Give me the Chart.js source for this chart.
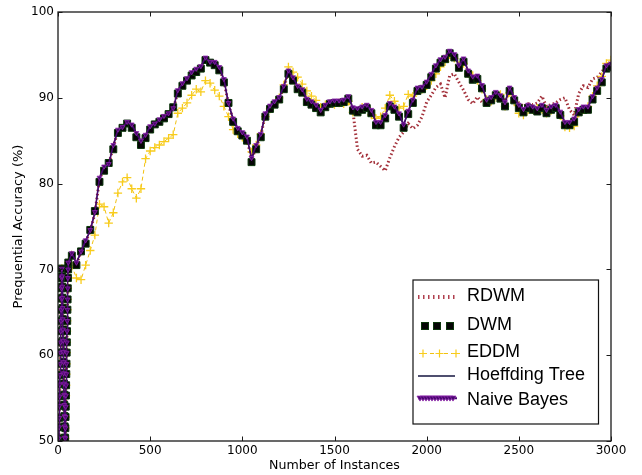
<!DOCTYPE html>
<html>
<head>
<meta charset="utf-8">
<title>Prequential Accuracy</title>
<script src="https://cdn.jsdelivr.net/npm/chart.js@4/dist/chart.umd.min.js"></script>
<style>
  html, body { margin: 0; padding: 0; background: #ffffff; }
  #wrap { width: 642px; height: 475px; }
</style>
</head>
<body>
<div id="wrap"><canvas id="chart" width="642" height="475"></canvas></div>
<script>
// ---- data ---------------------------------------------------------------
// warm-up phase: every learner starts from the same predictions
const warmupInstances = [0,
  4, 5, 6, 7, 8, 9, 10, 11, 12, 13, 14, 15, 16, 17, 18, 19, 20, 21,
  22, 23, 24, 25, 26, 27, 28, 29, 30, 31, 32, 33, 34, 35, 36, 37, 38,
  39, 40, 41, 42, 43, 44, 45, 46, 47, 48, 49, 50, 51, 52, 53, 54, 55, 56];
const warmupAccuracy = [47,
  49.2, 50.3, 51.6, 52.7, 54.1, 55.2, 56.6, 57.7, 59.0, 60.3, 61.5, 62.8, 64.0, 65.3, 66.6, 67.8, 69.0, 70.1,
  69.2, 68.0, 66.7, 65.5, 64.2, 63.0, 61.7, 60.4, 59.2, 57.9, 56.7, 55.4, 54.2, 52.9, 51.7, 50.4, 49.2,
  50.3, 51.5, 52.8, 54.0, 55.3, 56.5, 57.8, 59.0, 60.3, 61.5, 62.8, 64.0, 65.3, 66.5, 67.8, 69.0, 70.0, 70.8];

// evaluation points after the warm-up
const instances = [
  75, 100, 125, 150, 175, 200, 225, 250, 275, 300,
  325, 350, 375, 400, 425, 450, 475, 500, 525, 550,
  575, 600, 625, 650, 675, 700, 725, 750, 775, 800,
  825, 850, 875, 900, 925, 950, 975, 1000, 1025, 1050,
  1075, 1100, 1125, 1150, 1175, 1200, 1225, 1250, 1275, 1300,
  1325, 1350, 1375, 1400, 1425, 1450, 1475, 1500, 1525, 1550,
  1575, 1600, 1625, 1650, 1675, 1700, 1725, 1750, 1775, 1800,
  1825, 1850, 1875, 1900, 1925, 1950, 1975, 2000, 2025, 2050,
  2075, 2100, 2125, 2150, 2175, 2200, 2225, 2250, 2275, 2300,
  2325, 2350, 2375, 2400, 2425, 2450, 2475, 2500, 2525, 2550,
  2575, 2600, 2625, 2650, 2675, 2700, 2725, 2750, 2775, 2800,
  2825, 2850, 2875, 2900, 2925, 2950, 2975, 3000];

const rdwm = [
  71.8, 70.6, 72.0, 73.2, 74.5, 76.5, 80.5, 81.8, 82.2, 84.3,
  86.1, 86.4, 87.1, 86.7, 85.7, 84.8, 85.5, 86.5, 86.8, 87.3,
  87.7, 88.0, 88.6, 90.7, 91.5, 92.1, 92.8, 93.2, 93.5, 94.6,
  94.0, 94.0, 93.4, 92.0, 89.2, 87.4, 86.3, 85.8, 85.3, 82.7,
  84.3, 85.6, 88.0, 88.9, 89.4, 89.9, 91.2, 93.0, 92.2, 91.2,
  90.8, 89.7, 89.4, 89.0, 88.4, 89.0, 89.4, 89.5, 89.5, 89.6,
  90.0, 88.4, 84.0, 83.2, 83.3, 82.4, 82.5, 82.0, 81.5, 83.0,
  84.3, 85.4, 86.0, 87.0, 86.4, 86.8, 87.8, 89.5, 90.3, 91.2,
  91.6, 90.0, 92.6, 92.8, 91.8, 90.9, 89.8, 89.3, 90.1, 89.5,
  89.8, 89.9, 90.5, 90.2, 89.6, 90.8, 90.0, 89.4, 89.0, 89.3,
  89.2, 89.4, 90.2, 89.0, 89.2, 89.4, 89.8, 90.0, 88.6, 88.0,
  90.5, 91.4, 91.2, 92.2, 92.4, 93.0, 93.8, 94.0];

const dwm = [
  71.6, 70.5, 72.1, 73.0, 74.6, 76.8, 80.2, 81.5, 82.4, 84.0,
  85.9, 86.5, 87.0, 86.5, 85.4, 84.5, 85.3, 86.3, 86.9, 87.2,
  87.6, 88.1, 88.9, 90.5, 91.4, 92.0, 92.6, 93.0, 93.4, 94.4,
  94.1, 93.8, 93.2, 91.8, 89.4, 87.2, 86.1, 85.6, 85.0, 82.5,
  84.0, 85.4, 87.8, 88.7, 89.2, 89.8, 91.0, 92.8, 92.0, 91.0,
  90.6, 89.5, 89.2, 88.8, 88.3, 88.9, 89.3, 89.4, 89.4, 89.5,
  89.9, 88.5, 88.3, 88.6, 88.8, 88.2, 86.8, 86.8, 87.6, 89.0,
  88.6, 87.8, 86.5, 88.1, 89.4, 90.8, 91.0, 91.5, 92.4, 93.4,
  94.1, 94.5, 95.2, 94.7, 93.5, 94.2, 92.8, 92.1, 92.2, 91.1,
  89.4, 89.7, 90.3, 89.9, 89.0, 90.8, 89.7, 88.8, 88.3, 88.8,
  88.6, 88.4, 88.8, 88.2, 88.6, 88.8, 88.0, 86.8, 86.8, 87.2,
  88.3, 88.6, 88.6, 89.8, 90.8, 91.8, 93.4, 93.6];

const eddm = [
  70.4, 69.0, 68.8, 70.5, 72.2, 74.0, 77.6, 77.3, 75.4, 76.6,
  78.9, 80.2, 80.7, 79.4, 78.3, 79.4, 82.9, 83.8, 84.2, 84.5,
  84.9, 85.3, 85.7, 88.2, 88.8, 89.4, 90.3, 91.0, 90.7, 92.0,
  91.7, 90.9, 90.2, 89.0, 87.8, 86.3, 85.8, 85.4, 85.0, 83.7,
  84.5, 85.8, 87.8, 88.7, 89.3, 90.0, 91.5, 93.6, 93.0, 92.4,
  91.6, 90.8, 90.2, 89.7, 88.9, 89.2, 89.3, 89.2, 89.4, 89.3,
  89.6, 88.3, 88.4, 88.9, 88.9, 88.0, 87.6, 87.8, 88.8, 90.3,
  89.6, 88.8, 89.0, 90.4, 90.2, 90.8, 91.0, 91.4, 92.0, 92.8,
  93.6, 94.2, 95.0, 94.6, 93.8, 94.0, 92.8, 92.6, 92.0, 91.0,
  89.8, 89.6, 90.2, 90.4, 89.0, 90.6, 89.5, 88.2, 88.0, 88.6,
  88.6, 88.8, 88.7, 88.2, 88.5, 88.9, 87.9, 86.6, 86.5, 86.7,
  88.2, 88.6, 89.0, 90.2, 91.4, 92.5, 94.0, 94.4];

const hoeffdingTree = [
  71.8, 70.6, 72.0, 73.2, 74.5, 76.5, 80.5, 81.8, 82.2, 84.3,
  86.1, 86.4, 87.1, 86.7, 85.7, 84.8, 85.5, 86.5, 86.8, 87.3,
  87.7, 88.0, 88.6, 90.7, 91.5, 92.1, 92.8, 93.2, 93.5, 94.6,
  94.0, 94.0, 93.4, 92.0, 89.2, 87.4, 86.3, 85.8, 85.3, 82.7,
  84.3, 85.6, 88.0, 88.9, 89.4, 89.9, 91.2, 93.0, 92.2, 91.2,
  90.8, 89.7, 89.4, 89.0, 88.4, 89.0, 89.4, 89.5, 89.5, 89.6,
  90.0, 88.7, 88.6, 88.8, 89.0, 88.4, 87.0, 87.0, 87.8, 89.2,
  88.8, 88.0, 86.7, 88.3, 89.6, 91.0, 91.1, 91.7, 92.6, 93.6,
  94.3, 94.6, 95.4, 94.9, 93.6, 94.4, 93.0, 92.3, 92.4, 91.3,
  89.6, 89.9, 90.5, 90.1, 89.3, 91.0, 89.9, 89.0, 88.5, 89.0,
  88.8, 88.6, 89.0, 88.4, 88.8, 89.0, 88.2, 87.0, 87.0, 87.4,
  88.5, 88.8, 88.8, 90.0, 91.0, 92.0, 93.6, 93.8];

const naiveBayes = [
  71.9, 70.8, 72.1, 73.4, 74.6, 76.7, 80.7, 82.0, 82.3, 84.5,
  86.3, 86.6, 87.2, 86.9, 85.9, 85.0, 85.7, 86.7, 87.0, 87.5,
  87.9, 88.2, 88.8, 90.9, 91.7, 92.3, 93.0, 93.4, 93.7, 94.7,
  94.2, 94.2, 93.6, 92.2, 89.4, 87.6, 86.5, 86.0, 85.5, 83.0,
  84.5, 85.8, 88.2, 89.1, 89.6, 90.1, 91.4, 93.2, 92.4, 91.4,
  91.0, 89.9, 89.6, 89.2, 88.6, 89.2, 89.6, 89.7, 89.7, 89.8,
  90.2, 88.9, 88.8, 89.0, 89.2, 88.6, 87.2, 87.2, 88.0, 89.4,
  89.0, 88.2, 86.9, 88.5, 89.8, 91.2, 91.3, 91.9, 92.8, 93.8,
  94.5, 94.8, 95.5, 95.1, 93.8, 94.6, 93.2, 92.5, 92.6, 91.5,
  89.8, 90.1, 90.7, 90.3, 89.5, 91.2, 90.1, 89.2, 88.7, 89.2,
  89.0, 88.8, 89.2, 88.6, 89.0, 89.2, 88.4, 87.2, 87.2, 87.6,
  88.7, 89.0, 89.0, 90.2, 91.2, 92.2, 93.8, 94.0];

const xTickValues = [0, 500, 1000, 1500, 2000, 2500, 3000];
const yTickValues = [50, 60, 70, 80, 90, 100];

// ---- helpers ------------------------------------------------------------
const allInstances = warmupInstances.concat(instances);
const toPoints = values => {
  const ys = warmupAccuracy.concat(values);
  return allInstances.map((x, i) => ({ x: x, y: ys[i] }));
};

const TICK_FONT = { family: 'DejaVu Sans', size: 12 };

// Box frame with inward tick marks on all four sides
const framePlugin = {
  id: 'frame',
  afterDatasetsDraw(chart) {
    const { ctx, chartArea: ca, scales } = chart;
    ctx.save();
    ctx.strokeStyle = '#1a1a1a';
    ctx.lineWidth = 1.3;
    ctx.strokeRect(ca.left, ca.top, ca.right - ca.left, ca.bottom - ca.top);
    ctx.lineWidth = 1;
    ctx.beginPath();
    scales.x.ticks.forEach(t => {
      const px = Math.round(scales.x.getPixelForValue(t.value)) + 0.5;
      ctx.moveTo(px, ca.bottom); ctx.lineTo(px, ca.bottom - 4.5);
      ctx.moveTo(px, ca.top); ctx.lineTo(px, ca.top + 4.5);
    });
    scales.y.ticks.forEach(t => {
      const py = Math.round(scales.y.getPixelForValue(t.value)) + 0.5;
      ctx.moveTo(ca.left, py); ctx.lineTo(ca.left + 4.5, py);
      ctx.moveTo(ca.right, py); ctx.lineTo(ca.right - 4.5, py);
    });
    ctx.stroke();
    ctx.restore();
  }
};

function drawLegendSample(ctx, ds, x0, cy) {
  ctx.save();
  switch (ds.legendSample) {
    case 'dotted':
      ctx.strokeStyle = '#b0404f';
      ctx.lineWidth = 4;
      ctx.setLineDash([1.5, 3.5]);
      ctx.beginPath(); ctx.moveTo(x0 + 5, cy + 0.5); ctx.lineTo(x0 + 44, cy + 0.5); ctx.stroke();
      break;
    case 'squares':
      [12, 24, 37].forEach(dx => {
        ctx.fillStyle = ds.pointBackgroundColor;
        ctx.strokeStyle = ds.pointBorderColor;
        ctx.lineWidth = 1;
        ctx.fillRect(x0 + dx - 3.5, cy - 3, 7, 7);
        ctx.strokeRect(x0 + dx - 3.5, cy - 3, 7, 7);
      });
      break;
    case 'crosses': {
      const y = cy + 1;
      ctx.strokeStyle = ds.borderColor;
      ctx.lineWidth = 1;
      ctx.setLineDash([4, 3]);
      ctx.beginPath(); ctx.moveTo(x0 + 10, y); ctx.lineTo(x0 + 43, y); ctx.stroke();
      ctx.setLineDash([]);
      ctx.strokeStyle = ds.pointBorderColor;
      ctx.lineWidth = 1.2;
      [10, 26.5, 43].forEach(dx => {
        ctx.beginPath();
        ctx.moveTo(x0 + dx - 4, y); ctx.lineTo(x0 + dx + 4, y);
        ctx.moveTo(x0 + dx, y - 4); ctx.lineTo(x0 + dx, y + 4);
        ctx.stroke();
      });
      break;
    }
    case 'line':
      ctx.strokeStyle = '#15153f';
      ctx.lineWidth = 1.4;
      ctx.beginPath(); ctx.moveTo(x0 + 5, cy + 0.5); ctx.lineTo(x0 + 42, cy + 0.5); ctx.stroke();
      break;
    case 'triangles': {
      const y = cy - 2;
      ctx.strokeStyle = ds.borderColor;
      ctx.lineWidth = 2;
      ctx.beginPath(); ctx.moveTo(x0 + 5, y); ctx.lineTo(x0 + 44, y); ctx.stroke();
      ctx.fillStyle = ds.pointBackgroundColor;
      ctx.strokeStyle = ds.pointBorderColor;
      ctx.lineWidth = 0.8;
      for (let dx = 7; dx <= 42; dx += 3) {
        ctx.beginPath();
        ctx.moveTo(x0 + dx - 3, y - 2.2);
        ctx.lineTo(x0 + dx + 3, y - 2.2);
        ctx.lineTo(x0 + dx, y + 2.8);
        ctx.closePath();
        ctx.fill(); ctx.stroke();
      }
      break;
    }
  }
  ctx.restore();
}

// Legend panel in the lower right corner of the plot area
const legendPanel = {
  id: 'legendPanel',
  afterDraw(chart) {
    const { ctx, chartArea: ca } = chart;
    const x0 = ca.right - 198, y0 = ca.bottom - 161, w = 185.5, h = 144;
    const rowOffsets = [16.5, 45.5, 72.5, 95.5, 120.3];
    ctx.save();
    ctx.fillStyle = '#ffffff';
    ctx.fillRect(x0, y0, w, h);
    ctx.strokeStyle = '#111111';
    ctx.lineWidth = 1.2;
    ctx.strokeRect(x0, y0, w, h);
    chart.data.datasets.forEach((ds, i) => {
      const cy = y0 + rowOffsets[i];
      drawLegendSample(ctx, ds, x0, cy);
      ctx.fillStyle = '#000000';
      ctx.font = '18px "Liberation Sans", Arial, sans-serif';
      ctx.textBaseline = 'middle';
      ctx.textAlign = 'left';
      ctx.fillText(ds.label, x0 + 54, cy);
    });
    ctx.restore();
  }
};

new Chart(document.getElementById('chart'), {
  type: 'line',
  data: {
    datasets: [
      {
        label: 'RDWM', legendSample: 'dotted',
        data: toPoints(rdwm),
        borderColor: '#a3303a', borderWidth: 3, borderDash: [1.5, 2.5],
        pointRadius: 0, order: 5
      },
      {
        label: 'DWM', legendSample: 'squares',
        data: toPoints(dwm),
        showLine: false,
        pointStyle: 'rect', pointRadius: 4.9,
        pointBackgroundColor: '#050505', pointBorderColor: '#0c360c', pointBorderWidth: 1,
        order: 3
      },
      {
        label: 'EDDM', legendSample: 'crosses',
        data: toPoints(eddm),
        borderColor: '#f0c010', borderWidth: 1, borderDash: [4, 3],
        pointStyle: 'cross', pointRadius: 4.2,
        pointBorderColor: '#f8cc1c', pointBorderWidth: 1.3,
        order: 4
      },
      {
        label: 'Hoeffding Tree', legendSample: 'line',
        data: toPoints(hoeffdingTree),
        borderColor: '#14143c', borderWidth: 1,
        pointRadius: 0, order: 2
      },
      {
        label: 'Naive Bayes', legendSample: 'triangles',
        data: toPoints(naiveBayes),
        borderColor: '#4a0870', borderWidth: 1.5,
        pointStyle: 'triangle', pointRotation: 180, pointRadius: 2.8,
        pointBackgroundColor: '#4a0870', pointBorderColor: '#8a22a8', pointBorderWidth: 0.8,
        order: 1
      }
    ]
  },
  options: {
    responsive: false,
    animation: false,
    devicePixelRatio: 1,
    events: [],
    layout: { padding: { left: 0, top: 12, right: 31, bottom: 0 } },
    elements: { line: { tension: 0 } },
    plugins: {
      legend: { display: false },
      tooltip: { enabled: false }
    },
    scales: {
      x: {
        type: 'linear', position: 'bottom', min: 0, max: 3000,
        afterBuildTicks: s => { s.ticks = xTickValues.map(v => ({ value: v })); },
        afterFit: s => { s.height = 34; },
        grid: { display: false, drawTicks: false },
        border: { display: false },
        ticks: { color: '#000', font: TICK_FONT, padding: 3, maxRotation: 0, autoSkip: false,
                 callback: v => String(v) },
        title: { display: true, text: 'Number of Instances', color: '#000',
                 font: { family: 'DejaVu Sans', size: 12.6 }, padding: { top: 0, bottom: 2 } }
      },
      y: {
        type: 'linear', position: 'left', min: 50, max: 100,
        afterBuildTicks: s => { s.ticks = yTickValues.map(v => ({ value: v })); },
        afterFit: s => { s.width = 58; },
        grid: { display: false, drawTicks: false },
        border: { display: false },
        ticks: { color: '#000', font: TICK_FONT, padding: 4, callback: v => String(v) },
        title: { display: true, text: 'Prequential Accuracy (%)', color: '#000',
                 font: { family: 'DejaVu Sans', size: 13 }, padding: { top: 11, bottom: 0 } }
      }
    }
  },
  plugins: [framePlugin, legendPanel]
});
</script>
</body>
</html>
